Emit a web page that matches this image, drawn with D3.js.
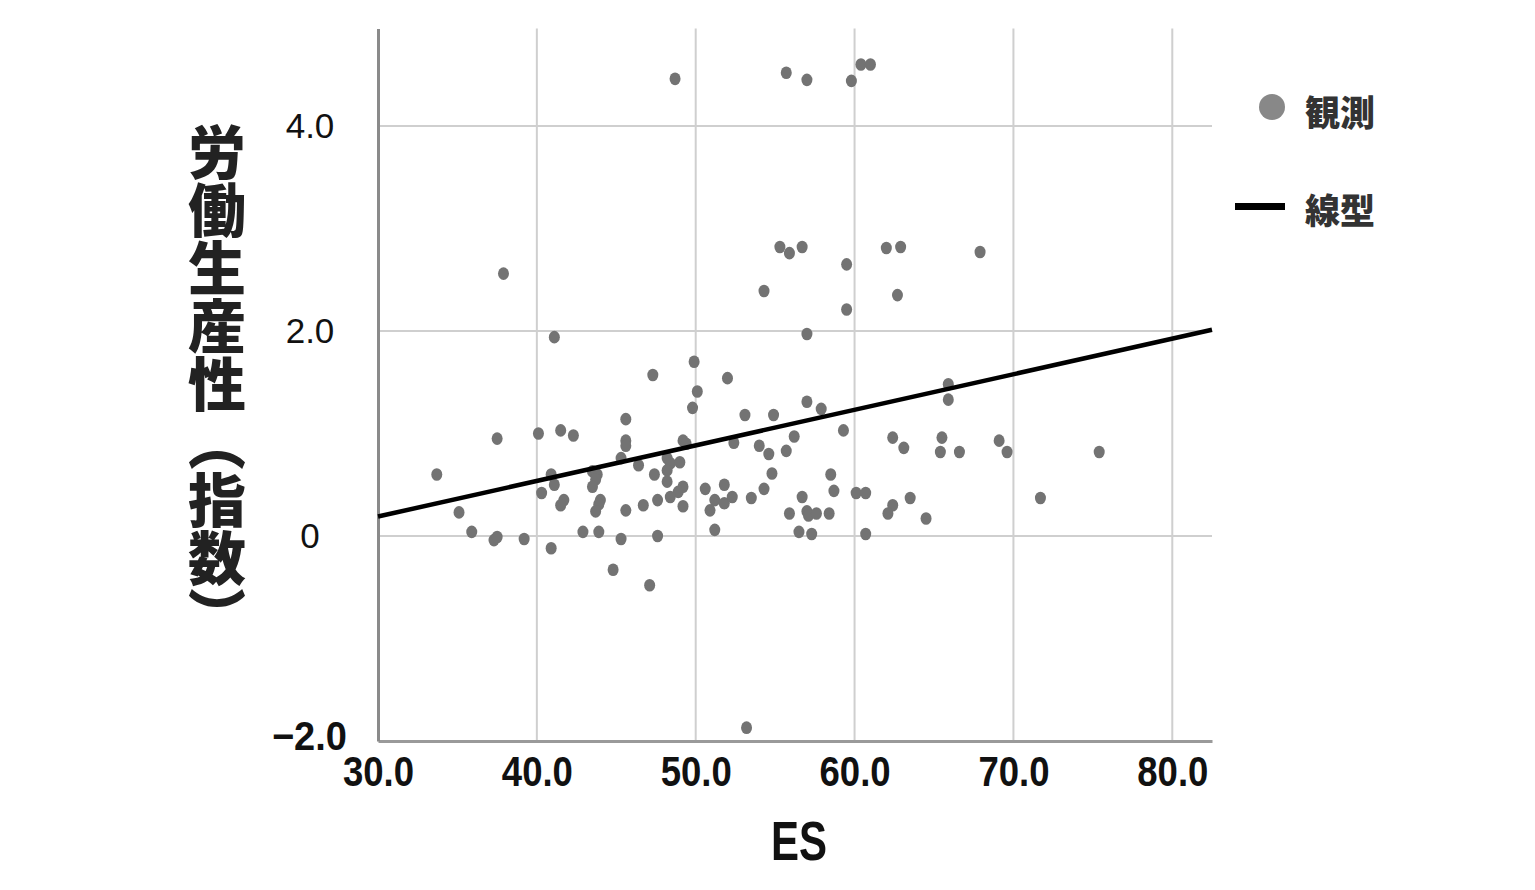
<!DOCTYPE html>
<html>
<head>
<meta charset="utf-8">
<script src="https://cdn.jsdelivr.net/npm/d3@7"></script>
<style>
  body { margin: 0; background: #fff; }
  svg { display: block; }
</style>
</head>
<body>
<svg id="chart" width="1535" height="890"></svg>
<script>
// observed points: ES vs labour productivity index
const esValues = [
  48.7, 55.7, 57.0, 59.8, 60.4, 61.0,
  37.9, 55.3, 55.9, 56.7, 62.0, 62.9, 67.9, 54.3, 59.5, 62.7, 59.5,
  57.0, 41.1, 49.9, 47.3, 52.0, 50.1, 49.8, 53.1, 54.9, 45.6, 57.0, 57.9, 65.9, 65.9, 59.3,
  37.5, 40.1, 41.5, 42.3, 45.6, 45.6, 49.2, 49.4, 52.4, 54.0, 54.6, 55.7, 56.2,
  62.4, 63.1, 65.5, 65.4, 66.6, 69.1, 69.6, 75.4,
  45.3, 46.4, 33.7, 40.9, 41.1, 40.3, 41.7, 41.5,
  43.5, 43.8, 43.7, 43.5, 44.0, 43.9, 43.7,
  48.2, 48.4, 48.2, 48.2, 49.0, 47.4, 49.2, 48.9, 48.4, 47.6, 46.7, 45.6, 49.2,
  50.6, 51.8, 51.2, 50.9, 51.8, 52.3, 53.5, 54.3, 54.8,
  58.5, 58.7, 56.7, 55.9, 57.0, 57.1, 57.6, 58.4, 60.1, 60.7, 62.4, 62.1, 63.5, 64.5, 71.7,
  35.1, 35.9, 37.3, 37.5, 39.2, 40.9, 42.9, 43.9, 45.3, 47.6, 51.2, 56.5, 57.3, 60.7,
  44.8, 47.1, 53.2
];
const productivity = [
  4.46, 4.52, 4.45, 4.44, 4.60, 4.60,
  2.56, 2.82, 2.76, 2.82, 2.81, 2.82, 2.77, 2.39, 2.65, 2.35, 2.21,
  1.97, 1.94, 1.70, 1.57, 1.54, 1.41, 1.25, 1.18, 1.18, 1.14, 1.31, 1.24, 1.48, 1.33, 1.03,
  0.95, 1.00, 1.03, 0.98, 0.93, 0.88, 0.93, 0.90, 0.91, 0.88, 0.80, 0.83, 0.97,
  0.96, 0.86, 0.96, 0.82, 0.82, 0.93, 0.82, 0.82,
  0.76, 0.69, 0.60, 0.60, 0.50, 0.42, 0.35, 0.30,
  0.63, 0.60, 0.55, 0.48, 0.35, 0.31, 0.24,
  0.76, 0.71, 0.64, 0.53, 0.72, 0.60, 0.48, 0.43, 0.38, 0.35, 0.30, 0.25, 0.29,
  0.46, 0.50, 0.35, 0.25, 0.32, 0.38, 0.37, 0.46, 0.61,
  0.60, 0.44, 0.38, 0.22, 0.24, 0.20, 0.22, 0.22, 0.42, 0.42, 0.30, 0.22, 0.37, 0.17, 0.37,
  0.23, 0.04, -0.04, -0.01, -0.03, -0.12, 0.04, 0.04, -0.03, 0.00, 0.06, 0.04, 0.02, 0.02,
  -0.33, -0.48, -1.87
];

// linear fit
const fitStartES = 30;
const fitIntercept = 0.19;
const fitSlope = 0.0347;

const xDomain = [30, 82.5];
const yDomain = [-2, 4.95];
const xTicks = [30, 40, 50, 60, 70, 80];
const yTicks = [-2, 0, 2, 4];

const yTitle = "労働生産性（指数）";
const xTitle = "ES";
const legendLabels = ["観測", "線型"];

const svg = d3.select("#chart");
const plotLeft = 378, plotRight = 1212, plotTop = 28.6, plotBottom = 741;

const x = d3.scaleLinear().domain(xDomain).range([plotLeft, plotRight]);
const y = d3.scaleLinear().domain(yDomain).range([plotBottom, plotTop]);

// grid
svg.append("g").selectAll("line")
  .data(xTicks.filter(d => d > xDomain[0]))
  .join("line")
  .attr("x1", d => x(d)).attr("x2", d => x(d))
  .attr("y1", plotTop).attr("y2", plotBottom)
  .attr("stroke", "#cfcfcf").attr("stroke-width", 2);

svg.append("g").selectAll("line")
  .data(yTicks.filter(d => d > yDomain[0]))
  .join("line")
  .attr("x1", plotLeft).attr("x2", plotRight)
  .attr("y1", d => y(d)).attr("y2", d => y(d))
  .attr("stroke", "#cfcfcf").attr("stroke-width", 2);

// axes
const xAxis = svg.append("g")
  .attr("transform", `translate(0,${plotBottom})`)
  .call(d3.axisBottom(x).tickValues(xTicks).tickSize(0).tickPadding(45).tickFormat(d3.format(".1f")));
xAxis.select(".domain").attr("stroke", "#9a9a9a").attr("stroke-width", 3);
xAxis.selectAll("text")
  .attr("font-family", "'Liberation Sans', Arial, sans-serif")
  .attr("font-size", 42).attr("font-weight", "bold").attr("fill", "#111")
  .attr("dy", 0)
  .attr("transform", "scale(0.87,1)");

const yAxis = svg.append("g")
  .attr("transform", `translate(${plotLeft},0)`)
  .call(d3.axisLeft(y).tickValues(yTicks).tickSize(0)
    .tickFormat(d => d === 0 ? "0" : d3.format(".1f")(d)));
yAxis.select(".domain").attr("stroke", "#8a8a8a").attr("stroke-width", 3);
yAxis.selectAll("text")
  .attr("text-anchor", "middle")
  .attr("x", -68)
  .attr("fill", "#111")
  .attr("font-family", "'Liberation Sans', Arial, sans-serif")
  .attr("font-size", 35)
  .each(function(d) {
    if (d === -2) {
      d3.select(this)
        .attr("font-size", 40).attr("font-weight", "bold")
        .attr("dy", "0.2em")
        .attr("transform", "translate(-4,0) scale(0.95,1)");
    }
  });

// points
const points = esValues.map((v, i) => ({ es: v, p: productivity[i] }));
svg.append("g").selectAll("ellipse")
  .data(points)
  .join("ellipse")
  .attr("cx", d => x(d.es))
  .attr("cy", d => y(d.p))
  .attr("rx", 5.5).attr("ry", 6.3)
  .attr("fill", "#737373");

// fit line
const fitLine = d3.line().x(d => x(d)).y(d => y(fitIntercept + fitSlope * (d - fitStartES)));
svg.append("path")
  .attr("d", fitLine(xDomain))
  .attr("fill", "none").attr("stroke", "#000").attr("stroke-width", 4.5);

// titles
svg.append("text")
  .attr("x", 799).attr("y", 860)
  .attr("text-anchor", "middle")
  .attr("font-family", "'Liberation Sans', Arial, sans-serif")
  .attr("font-size", 56).attr("font-weight", "bold").attr("fill", "#111")
  .attr("transform", "translate(799,0) scale(0.75,1) translate(-799,0)")
  .text(xTitle);

svg.append("text")
  .attr("x", 217).attr("y", 123)
  .attr("font-family", "'Noto Sans CJK JP', sans-serif")
  .attr("font-size", 58).attr("font-weight", 900).attr("fill", "#222")
  .style("writing-mode", "vertical-rl")
  .text(yTitle);

// legend
const legend = svg.append("g");
legend.append("circle").attr("cx", 1272).attr("cy", 107).attr("r", 13).attr("fill", "#888");
legend.append("rect").attr("x", 1235).attr("y", 203).attr("width", 50).attr("height", 7).attr("fill", "#000");
legend.selectAll("text")
  .data(legendLabels)
  .join("text")
  .attr("x", 1305)
  .attr("y", (d, i) => [110, 208][i])
  .attr("dominant-baseline", "central")
  .attr("font-family", "'Noto Sans CJK JP', sans-serif")
  .attr("font-size", 35).attr("font-weight", 900).attr("fill", "#333")
  .text(d => d);
</script>
</body>
</html>
